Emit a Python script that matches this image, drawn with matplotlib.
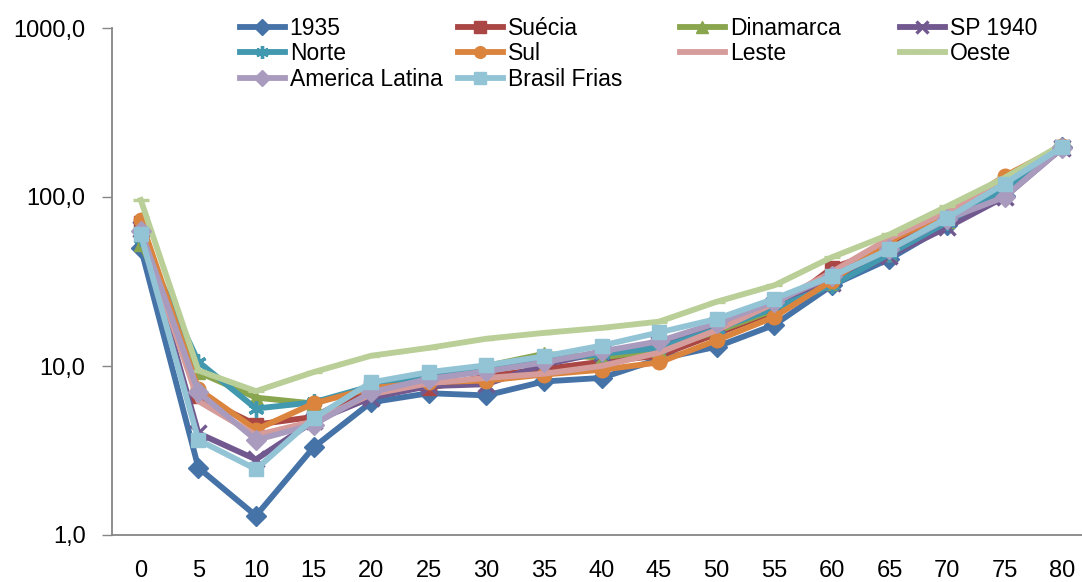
"""
plot.py

Mortality by age on a log scale, several life tables.
"""

import matplotlib
matplotlib.use("Agg")

import matplotlib.pyplot as plt
from matplotlib.ticker import FixedLocator, NullLocator

plt.rcParams["font.family"] = ["Liberation Sans", "DejaVu Sans"]

ages = [0, 5, 10, 15, 20, 25, 30, 35, 40, 45, 50, 55, 60, 65, 70, 75, 80]

s1935 = [50, 2.5, 1.3, 3.3, 6.1, 6.9, 6.7, 8.1, 8.5, 11.0, 13.0, 17.5, 30, 43, 68, 102, 198]
suecia = [70, 6.6, 4.5, 5.0, 7.5, 7.4, 8.7, 9.6, 10.6, 11.5, 15.5, 21, 38, 50, 79, 118, 198]
dinamarca = [53, 9.2, 6.5, 6.0, 7.6, 8.7, 10.0, 11.8, 11.2, 12.5, 16, 21.5, 31, 46, 72, 113, 200]
sp1940 = [65, 4.0, 2.8, 4.7, 6.5, 7.6, 7.8, 10.2, 12.0, 13.5, 17.5, 23, 31, 45, 66, 100, 195]
norte = [57, 10.6, 5.6, 6.1, 7.6, 8.7, 9.5, 10.8, 11.8, 12.8, 16.5, 22, 30, 46, 71, 110, 198]
sul = [73, 7.3, 4.2, 6.0, 7.4, 8.0, 8.2, 8.9, 9.5, 10.5, 14.2, 19.5, 32, 55, 80, 133, 200]
leste = [62, 6.2, 3.9, 4.7, 6.8, 7.9, 8.5, 9.0, 10.0, 12.0, 16.3, 23.5, 36, 57, 82, 128, 200]
oeste = [96, 9.4, 7.1, 9.2, 11.5, 12.8, 14.5, 15.7, 16.8, 18.3, 24, 30, 44, 60, 88, 130, 205]
america_latina = [63, 7.0, 3.65, 4.5, 7.0, 8.4, 9.3, 10.5, 12.2, 14.0, 18, 24, 34, 49, 74, 100, 195]
brasil_frias = [60, 3.65, 2.45, 4.9, 8.0, 9.2, 10.1, 11.4, 13.2, 15.8, 19, 25, 34, 49, 75, 120, 198]

y_ticks = [1, 10, 100, 1000]
y_tick_labels = ["1,0", "10,0", "100,0", "1000,0"]

# (label, values, colour, marker)
series = [
    ("1935", s1935, "#4572A7", "D"),
    ("Suécia", suecia, "#AA4643", "s"),
    ("Dinamarca", dinamarca, "#89A54E", "^"),
    ("SP 1940", sp1940, "#71588F", "x"),
    ("Norte", norte, "#4198AF", (6, 2, 0)),
    ("Sul", sul, "#DB843D", "o"),
    ("Leste", leste, "#D69C9B", None),
    ("Oeste", oeste, "#B9CF97", "_"),
    ("America Latina", america_latina, "#A99BBD", "D"),
    ("Brasil Frias", brasil_frias, "#93C4D6", "s"),
]

fig = plt.figure(
    figsize=(10.82, 5.82),
    dpi=100
)

# axis runs past the right edge, like the category axis it mimics
ax = fig.add_axes([112 / 1082, 47 / 582, 979 / 1082, 507 / 582])

positions = list(range(len(ages)))
handles = []

for label, values, color, marker in series:
    thin = marker in ("x", (6, 2, 0), "_")
    line, = ax.plot(
        positions,
        values,
        color=color,
        linewidth=4.2,
        marker=marker,
        markersize=11.5 if thin else 10.5,
        markeredgewidth=2.4 if thin else 1,
        markeredgecolor=color,
        markerfacecolor=color,
        solid_joinstyle="miter",
        label=label
    )
    handles.append(line)

ax.set_yscale("log")
ax.set_ylim(1, 1000)
ax.set_xlim(-0.5, len(ages) - 0.5)

ax.yaxis.set_major_locator(FixedLocator(y_ticks))
ax.yaxis.set_minor_locator(NullLocator())
ax.set_yticklabels(y_tick_labels)

ax.set_xticks(positions)
ax.set_xticklabels([str(a) for a in ages])

ax.tick_params(
    axis="y",
    direction="out",
    length=7,
    width=1,
    color="#868686",
    labelsize=17,
    pad=12
)
ax.tick_params(
    axis="x",
    length=0,
    labelsize=17,
    pad=18
)

for side in ("top", "right"):
    ax.spines[side].set_visible(False)
for side in ("left", "bottom"):
    ax.spines[side].set_color("#868686")
    ax.spines[side].set_linewidth(1.3)

# legend: four aligned columns, filled row by row
column_x = [240, 458, 680, 900]
for col, x in enumerate(column_x):
    col_handles = handles[col::4]
    fig.legend(
        handles=col_handles,
        labels=[h.get_label() for h in col_handles],
        loc="upper left",
        bbox_to_anchor=(x / 1082, 1 - 17 / 582),
        frameon=False,
        fontsize=16.5,
        handlelength=1.95,
        handletextpad=0.22,
        borderpad=0,
        borderaxespad=0,
        labelspacing=0.1,
        markerscale=0.8
    )

fig.savefig("out.png", dpi=100)
